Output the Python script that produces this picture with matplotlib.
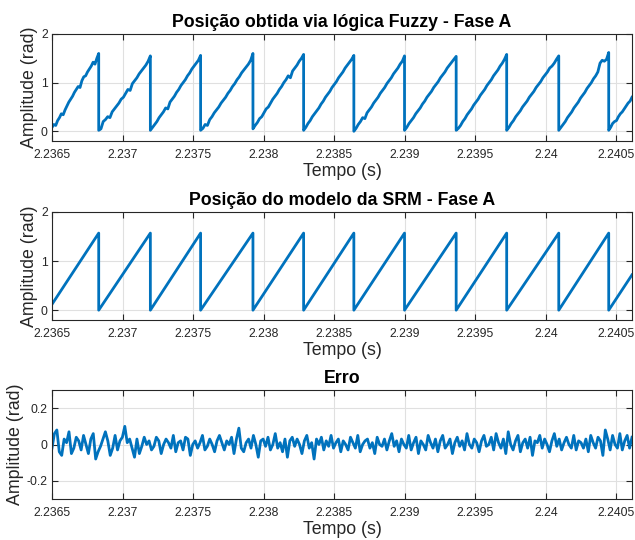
import numpy as np
import matplotlib
matplotlib.use("Agg")
import matplotlib.pyplot as plt
from matplotlib.ticker import FormatStrFormatter

plt.rcParams["font.family"] = ["Liberation Sans", "DejaVu Sans"]

# time window (s)
t_start = 2.2365
t_end = 2.24061
x_ticks = [2.2365, 2.237, 2.2375, 2.238, 2.2385, 2.239, 2.2395, 2.24, 2.2405]
x_tick_labels = ["2.2365", "2.237", "2.2375", "2.238", "2.2385", "2.239",
                 "2.2395", "2.24", "2.2405"]

# instants where the sawtooth drops back to zero
drop_times = [2.236831, 2.237197, 2.237553, 2.237924, 2.238283, 2.238639,
              2.238998, 2.239364, 2.239722, 2.240091, 2.240445]

# SRM model: straight ramps between these values
model_first = 0.12
model_peak = 1.57
model_trough = 0.0
model_last = 0.72

# Fuzzy estimate, one list per ramp (first and last are partial)
fuzzy_teeth = [
    [0.08, 0.14, 0.12, 0.22, 0.28, 0.36, 0.34, 0.44, 0.52, 0.6, 0.66, 0.72, 0.8, 0.86, 0.92, 0.9, 1.04, 1.12, 1.14, 1.22, 1.28, 1.34, 1.42, 1.38, 1.5, 1.6],
    [0.02, 0.05, 0.2, 0.24, 0.3, 0.28, 0.4, 0.46, 0.52, 0.58, 0.66, 0.7, 0.78, 0.86, 0.84, 0.98, 1.04, 1.1, 1.18, 1.24, 1.3, 1.36, 1.44, 1.55],
    [0.02, 0.08, 0.14, 0.2, 0.28, 0.34, 0.4, 0.48, 0.46, 0.6, 0.66, 0.72, 0.8, 0.86, 0.94, 1.0, 1.06, 1.14, 1.2, 1.28, 1.34, 1.4, 1.46, 1.56],
    [0.02, 0.06, 0.14, 0.12, 0.24, 0.3, 0.38, 0.44, 0.5, 0.58, 0.64, 0.7, 0.78, 0.84, 0.92, 0.98, 1.06, 1.12, 1.2, 1.26, 1.32, 1.38, 1.46, 1.6],
    [0.05, 0.12, 0.18, 0.26, 0.3, 0.38, 0.46, 0.5, 0.58, 0.66, 0.72, 0.78, 0.86, 0.92, 1.0, 1.06, 1.14, 1.1, 1.24, 1.3, 1.36, 1.44, 1.5, 1.58],
    [0.02, 0.08, 0.16, 0.22, 0.3, 0.36, 0.42, 0.48, 0.56, 0.62, 0.7, 0.76, 0.82, 0.9, 0.96, 1.02, 1.1, 1.16, 1.22, 1.3, 1.36, 1.42, 1.48, 1.56],
    [0.0, 0.06, 0.14, 0.2, 0.28, 0.26, 0.38, 0.44, 0.5, 0.58, 0.64, 0.7, 0.78, 0.84, 0.9, 0.98, 1.04, 1.1, 1.18, 1.24, 1.3, 1.38, 1.44, 1.55],
    [0.02, 0.08, 0.16, 0.22, 0.28, 0.36, 0.42, 0.48, 0.56, 0.62, 0.7, 0.76, 0.82, 0.9, 0.96, 1.02, 1.1, 1.16, 1.22, 1.3, 1.36, 1.42, 1.48, 1.54],
    [0.02, 0.06, 0.12, 0.2, 0.26, 0.34, 0.4, 0.46, 0.54, 0.6, 0.66, 0.74, 0.8, 0.86, 0.94, 1.0, 1.06, 1.14, 1.2, 1.26, 1.34, 1.4, 1.48, 1.58],
    [0.02, 0.08, 0.16, 0.22, 0.3, 0.36, 0.42, 0.5, 0.56, 0.62, 0.7, 0.76, 0.82, 0.9, 0.96, 1.02, 1.1, 1.16, 1.22, 1.3, 1.34, 1.4, 1.48, 1.55],
    [0.02, 0.08, 0.14, 0.2, 0.28, 0.34, 0.4, 0.48, 0.54, 0.6, 0.68, 0.74, 0.8, 0.88, 0.94, 1.0, 1.08, 1.14, 1.22, 1.4, 1.46, 1.44, 1.48, 1.62],
    [0.02, 0.08, 0.16, 0.2, 0.22, 0.3, 0.36, 0.4, 0.46, 0.52, 0.58, 0.62, 0.7],
]

# error (rad), evenly spaced over the window
erro = [
    -0.02, 0.06, 0.08, -0.04, -0.06, 0.03, 0.01, 0.07, -0.05, -0.02, 0.04, 0.02, -0.03, 0.05, 0.0, -0.05, 0.03, 0.06, -0.08, -0.04,
    -0.01, 0.03, 0.07, 0.02, -0.06, -0.02, 0.05, -0.03, 0.02, 0.04, 0.1, 0.01, 0.03, -0.02, -0.07, 0.03, -0.05, -0.01, 0.04, 0.0,
    0.02, -0.03, -0.01, 0.04, 0.02, -0.05, 0.0, 0.03, 0.01, -0.02, 0.05, -0.04, 0.01, 0.02, -0.03, 0.04, 0.03, -0.06, 0.0, 0.02,
    -0.02, 0.01, 0.05, -0.03, -0.01, 0.03, 0.0, -0.04, 0.02, 0.05, 0.01, -0.03, 0.02, 0.0, 0.04, -0.05, 0.03, 0.09, -0.02, -0.04,
    0.01, 0.03, -0.02, 0.05, 0.0, -0.07, 0.02, 0.03, -0.01, 0.04, -0.03, 0.0, 0.06, -0.02, 0.01, -0.04, 0.03, -0.07, 0.02, 0.04,
    -0.01, 0.03, 0.0, -0.05, 0.02, 0.05, -0.02, 0.01, -0.08, 0.03, 0.0, 0.04, -0.03, 0.02, -0.01, 0.05, -0.02, 0.01, 0.03, -0.04,
    0.02, 0.0, -0.03, 0.04, 0.01, -0.02, 0.05, -0.04, 0.0, 0.02, 0.03, -0.02, 0.01, -0.05, 0.04, 0.0, -0.01, 0.03, -0.03, 0.02,
    0.06, -0.01, 0.02, -0.04, 0.03, 0.0, -0.02, 0.05, -0.03, 0.01, 0.04, -0.05, 0.02, 0.0, -0.03, 0.05, 0.01, -0.02, 0.03, -0.04,
    0.02, 0.05, -0.02, 0.0, 0.03, -0.05, 0.01, 0.04, -0.01, 0.02, -0.03, 0.06, 0.0, -0.02, 0.03, 0.01, -0.04, 0.02, 0.05, -0.01,
    0.0, 0.04, -0.03, 0.06, 0.01, -0.02, 0.03, -0.05, 0.07, 0.0, -0.03, 0.02, 0.05, -0.04, 0.01, 0.03, -0.02, 0.04, -0.06, 0.02,
    0.01, 0.05, -0.02, 0.03, 0.0, -0.04, 0.02, 0.06, -0.01, 0.03, -0.03, 0.01, 0.04, 0.0, -0.02, 0.05, -0.03, 0.02, 0.01, -0.02,
    0.03, -0.04, 0.05, 0.01, -0.02, 0.04, 0.02, -0.06, 0.08, 0.03, -0.03, 0.05, 0.0, -0.02, 0.06, -0.03, 0.02, 0.05, -0.02, 0.04,
]

LINE = "#0072BD"
AXC = "#262626"

# build model polyline
model_t = [t_start]
model_y = [model_first]
for d in drop_times:
    model_t += [d, d]
    model_y += [model_peak, model_trough]
model_t.append(t_end)
model_y.append(model_last)

# build fuzzy polyline
bounds = [t_start] + drop_times + [t_end]
fuzzy_t, fuzzy_y = [], []
for i, vals in enumerate(fuzzy_teeth):
    fuzzy_t += list(np.linspace(bounds[i], bounds[i + 1], len(vals)))
    fuzzy_y += vals

erro_t = np.linspace(t_start, t_end, len(erro))

fig = plt.figure(figsize=(6.35, 5.4), dpi=100)
W = 580 / 635
L = 52 / 635
ax1 = fig.add_axes([L, 1 - 141 / 540, W, 107 / 540])
ax2 = fig.add_axes([L, 1 - 320 / 540, W, 108 / 540])
ax3 = fig.add_axes([L, 1 - 499 / 540, W, 109 / 540])


def style(ax, title, ylim, yticks):
    ax.set_xlim(t_start, t_end)
    ax.set_ylim(*ylim)
    ax.set_xticks(x_ticks)
    ax.set_xticklabels(x_tick_labels)
    ax.set_yticks(yticks)
    ax.yaxis.set_major_formatter(FormatStrFormatter("%g"))
    ax.tick_params(direction="in", length=4, width=0.8, colors=AXC,
                   labelsize=8.8, top=True, right=True)
    ax.tick_params(axis="x", pad=6)
    ax.tick_params(axis="y", pad=3)
    for s in ax.spines.values():
        s.set_color(AXC)
        s.set_linewidth(0.8)
    ax.grid(True, color="#e0e0e0", linewidth=0.8)
    ax.set_axisbelow(True)
    ax.set_title(title, fontsize=12.8, fontweight="bold", pad=5)
    ax.set_xlabel("Tempo (s)", fontsize=12.8, color=AXC, labelpad=1)
    ax.set_ylabel("Amplitude (rad)", fontsize=12.8, color=AXC, labelpad=2)


ax1.plot(fuzzy_t, fuzzy_y, color=LINE, linewidth=2)
style(ax1, "Posição obtida via lógica Fuzzy - Fase A", (-0.2, 2), [0, 1, 2])

ax2.plot(model_t, model_y, color=LINE, linewidth=2)
style(ax2, "Posição do modelo da SRM - Fase A", (-0.2, 2), [0, 1, 2])

ax3.plot(erro_t, erro, color=LINE, linewidth=2)
style(ax3, "Erro", (-0.3, 0.3), [-0.2, 0, 0.2])

fig.savefig("out.png", dpi=100, facecolor="white")
